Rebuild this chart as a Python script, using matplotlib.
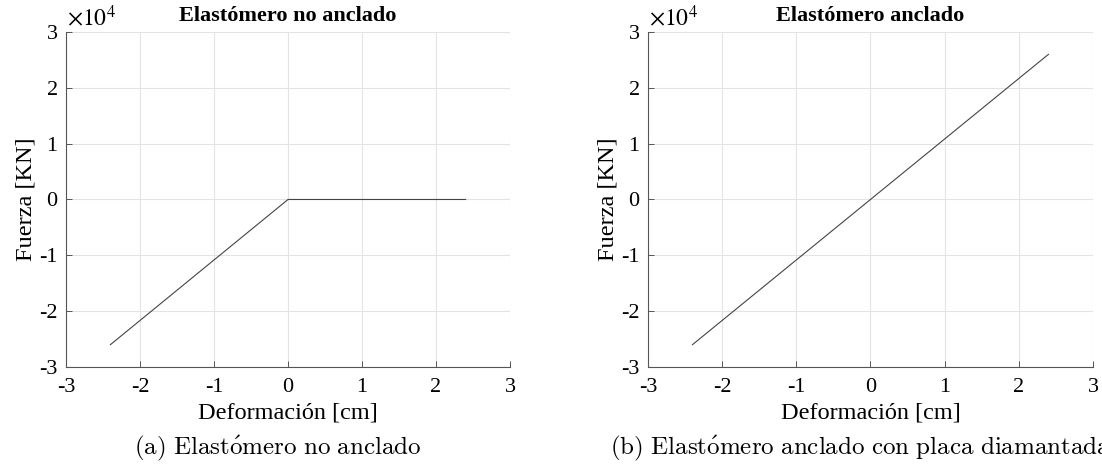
import matplotlib
matplotlib.use('Agg')
import matplotlib.pyplot as plt
from matplotlib.ticker import FuncFormatter

plt.rcParams['font.family'] = ['Liberation Serif', 'DejaVu Serif']
plt.rcParams['mathtext.fontset'] = 'stix'
plt.rcParams['axes.unicode_minus'] = False

# data: deformacion [cm] vs fuerza [KN]
x_no_anclado = [-2.4, 0.0, 2.4]
f_no_anclado = [-26000, 0, 0]
x_anclado = [-2.4, 2.4]
f_anclado = [-26000, 26000]

ticks_x = [-3, -2, -1, 0, 1, 2, 3]
ticks_y = [-30000, -20000, -10000, 0, 10000, 20000, 30000]

titles = ['Elastómero no anclado', 'Elastómero anclado']
captions = [r'$\mathrm{(a)\ Elast\acute{o}mero\ no\ anclado}$',
            r'$\mathrm{(b)\ Elast\acute{o}mero\ anclado\ con\ placa\ diamantada}$']

fig = plt.figure(figsize=(11.02, 4.69), dpi=100)
ax1 = fig.add_axes([0.0599, 0.2175, 0.4029, 0.7143])
ax2 = fig.add_axes([0.588, 0.2175, 0.4038, 0.7143])

for ax, xs, ys, title, cap in zip([ax1, ax2],
                                  [x_no_anclado, x_anclado],
                                  [f_no_anclado, f_anclado],
                                  titles, captions):
    ax.plot(xs, ys, color='#444444', lw=0.8)
    ax.set_xlim(-3, 3)
    ax.set_ylim(-30000, 30000)
    ax.set_xticks(ticks_x)
    ax.set_yticks(ticks_y)
    ax.xaxis.set_major_formatter(FuncFormatter(lambda v, p: '%d' % round(v)))
    ax.yaxis.set_major_formatter(FuncFormatter(lambda v, p: '%d' % round(v / 1e4)))
    ax.grid(True, color='#e3e3e3', lw=0.8)
    ax.set_axisbelow(True)
    for s in ['top', 'right']:
        ax.spines[s].set_visible(False)
    for s in ['left', 'bottom']:
        ax.spines[s].set_color('#555555')
        ax.spines[s].set_linewidth(0.8)
    ax.tick_params(direction='in', length=4, width=0.7, color='#555555',
                   labelsize=16)
    ax.tick_params(axis='x', pad=8)
    ax.tick_params(axis='y', pad=6)
    ax.set_xlabel('Deformación [cm]', fontsize=17.5, labelpad=4)
    ax.set_ylabel('Fuerza [KN]', fontsize=17.5, labelpad=2)
    ax.set_title(title, fontsize=16, fontweight='bold', pad=8)
    ax.text(0.003, 1.005, r'$\times10^4$', transform=ax.transAxes,
            fontsize=17, ha='left', va='bottom')
    # caption sits centred a little left of the axes centre
    ax.text(0.478, -0.2, cap, transform=ax.transAxes, fontsize=18,
            ha='center', va='top', math_fontfamily='cm')

fig.savefig('out.png', dpi=100)
